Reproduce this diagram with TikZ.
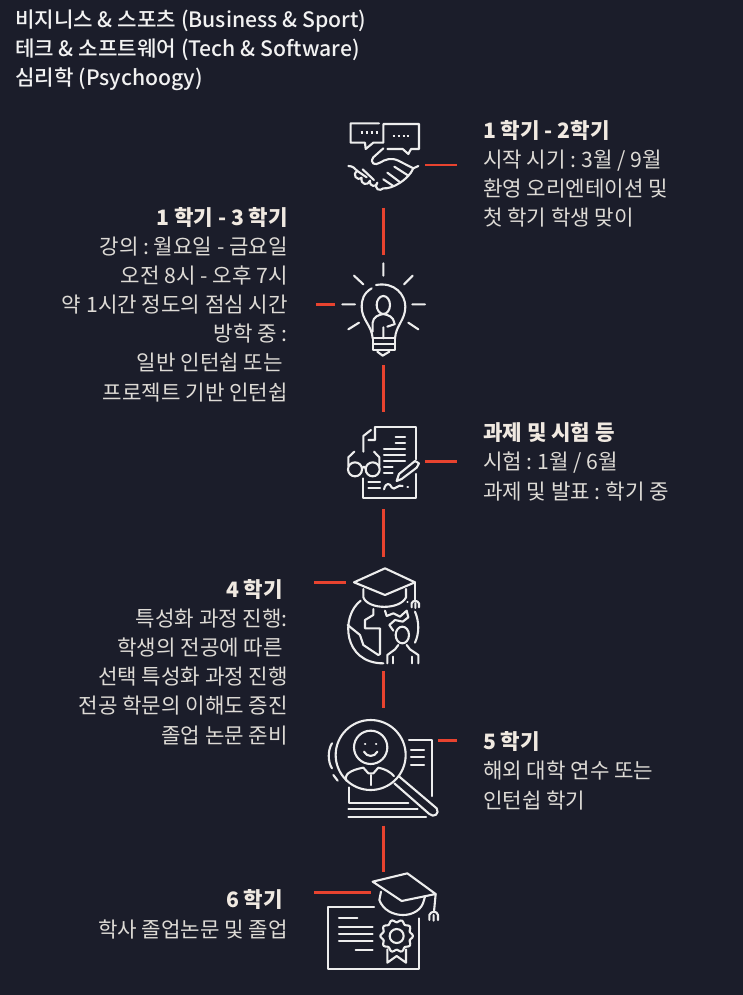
\documentclass[tikz,border=0pt]{standalone}
\usepackage{fontspec}
\setmainfont{Noto Sans CJK KR}
\newfontfamily\medfont{Noto Sans CJK KR Medium}
\definecolor{bg}{HTML}{1B1D2A}
\definecolor{redline}{HTML}{E8432F}
\definecolor{ink}{HTML}{DEDBD6}
\definecolor{headc}{HTML}{F0E9E1}
\definecolor{topc}{HTML}{F2F2F2}
\definecolor{iconc}{HTML}{EDEDED}
\newcommand{\hd}[1]{\textcolor{headc}{\textbf{#1}}}
\tikzset{
  redseg/.style={draw=redline,line width=2.5pt},
  icon/.style={draw=iconc,line width=2.1pt,line cap=round,line join=round},
  ltxt/.style={text=ink,align=left,anchor=base west,inner sep=0pt,font=\fontsize{21.2}{29.1}\selectfont\frenchspacing},
  rtxt/.style={text=ink,align=right,anchor=base east,inner sep=0pt,font=\fontsize{21.2}{29.1}\selectfont\frenchspacing},
  toptxt/.style={text=topc,align=left,anchor=base west,inner sep=0pt,font=\fontsize{21.2}{29.1}\selectfont\frenchspacing\medfont},
  zoomed/.style={x=0.33333pt,y=-0.33333pt}
}
\newcommand{\trailgap}{\hbox to 5pt{}}
\begin{document}
\begin{tikzpicture}[x=1pt,y=-1pt]
\useasboundingbox (0,0) rectangle (743,995);
\fill[bg] (0,0) rectangle (743,995);

% texts
\node[toptxt] (top) at (15,86) {비지니스 \& 스포츠 (Business \& Sport)\\테크 \& 소프트웨어 (Tech \& Software)\\심리학 (Psychoogy)};
\node[ltxt] (r1) at (483,225.5) {\hd{1 학기 - 2학기}\\시작 시기 : 3월 / 9월\\환영 오리엔테이션 및\\첫 학기 학생 맞이};
\node[rtxt] (l1) at (288,400) {\hd{1 학기 - 3 학기}\\강의 : 월요일 - 금요일\\오전 8시 - 오후 7시\\약 1시간 정도의 점심 시간\\방학 중 :\\일반 인턴쉽 또는\trailgap\\프로젝트 기반 인턴쉽};
\node[rtxt] (l4) at (288,743) {\hd{4 학기}\trailgap\\특성화 과정 진행:\\학생의 전공에 따른\trailgap\\선택 특성화 과정 진행\\전공 학문의 이해도 증진\\졸업 논문 준비};
\node[ltxt] (r2) at (483,499) {\hd{과제 및 시험 등}\\시험 : 1월 / 6월\\과제 및 발표 : 학기 중};
\node[ltxt] (r5) at (483,808) {\hd{5 학기}\\해외 대학 연수 또는\\인턴쉽 학기};
\node[rtxt] (l6) at (288,937) {\hd{6 학기}\trailgap\\학사 졸업논문 및 졸업};

% red connectors
\coordinate (a1) at (383.3,207.7); \coordinate (a2) at (383.3,254.7);
\coordinate (b1) at (383.3,365); \coordinate (b2) at (383.3,411.7);
\coordinate (c1) at (383.3,509.3); \coordinate (c2) at (383.3,556.7);
\coordinate (d1) at (383.3,671); \coordinate (d2) at (383.3,708.3);
\coordinate (e1) at (383.3,825.7); \coordinate (e2) at (383.3,872.3);
\coordinate (f1) at (425,165); \coordinate (f2) at (456.7,165);
\coordinate (g1) at (316,304.7); \coordinate (g2) at (335,304.7);
\coordinate (h1) at (425,461.7); \coordinate (h2) at (456.7,461.7);
\coordinate (i1) at (314,582.3); \coordinate (i2) at (345.7,582.3);
\coordinate (j1) at (438.3,740.7); \coordinate (j2) at (456.7,740.7);
\coordinate (k1) at (314,892.7); \coordinate (k2) at (371,892.7);
\foreach \p/\q in {a1/a2,b1/b2,c1/c2,d1/d2,e1/e2,f1/f2,g1/g2,h1/h2,i1/i2,j1/j2,k1/k2}
  \draw[redseg] (\p) -- (\q);

% handshake + bulb
\begin{scope}[shift={(300,100)},zoomed,icon]
\draw (237,70) -- (152,70) -- (152,128) -- (195,128) -- (197,147) -- (220,128) -- (248,128);
\draw (250,128) -- (250,72) -- (357,72) -- (357,147) -- (333,147) -- (325,162) -- (308,147) -- (262,147);
\foreach \x in {182,197,212,227} \draw[line width=2.6pt,line cap=butt] (\x,98) -- +(6,0);
\foreach \x in {278,293,308,320} \draw[line width=2.6pt,line cap=butt] (\x,108) -- +(6,0);
\draw (145,198) .. controls (158,198) and (165,205) .. (172,213);
\draw (172,213) .. controls (155,222) and (170,245) .. (185,233) .. controls (180,255) and (205,258) .. (210,242) .. controls (208,262) and (230,262) .. (232,248) .. controls (220,268) and (240,275) .. (250,265) .. controls (275,268) and (325,240) .. (340,205) -- (355,198);
\draw (172,213) -- (200,232) (188,208) -- (222,240);
\draw (250,145) -- (220,172) .. controls (208,190) and (225,198) .. (240,188) .. controls (255,178) and (275,172) .. (295,182) -- (340,205);
\draw (283,200) -- (322,225) (262,218) -- (298,245) (250,238) -- (280,258);
% bulb
\draw (250,490) -- (250,527) (162,527) -- (190,553) (338,527) -- (312,553) (127,613) -- (165,613) (337,613) -- (375,613) (145,688) -- (177,668) (355,688) -- (325,668);
\draw (215,565) .. controls (190,580) and (185,600) .. (185,620) .. controls (185,660) and (215,675) .. (218,715);
\draw (228,555) .. controls (285,545) and (316,585) .. (316,620) .. controls (316,660) and (288,675) .. (285,715);
\draw (250,615) ellipse [x radius=20,y radius=27];
\draw (218,695) -- (218,668) .. controls (220,650) and (235,645) .. (250,642) .. controls (265,645) and (280,650) .. (283,668);
\draw (250,682) -- (250,715) (262,680) -- (285,672);
\draw (218,715) -- (285,715) -- (285,733) -- (218,733) -- cycle;
\draw (218,733) -- (218,750) -- (285,750) -- (285,733);
\draw (232,755) -- (248,767) -- (268,755);
\end{scope}

% document + graduation/globe
\begin{scope}[shift={(300,400)},zoomed,icon]
\draw (225,82) -- (347,82) -- (347,178) (347,222) -- (347,293) -- (190,293) -- (190,235);
\draw (190,155) -- (190,108) -- (213,90) (225,82) -- (225,120) -- (205,120);
\draw (287,112) -- (315,112) (287,130) -- (315,130) (252,147) -- (315,147) (252,165) -- (315,165) (252,183) -- (315,183) (252,200) -- (278,200) (252,218) -- (278,218) (205,247) -- (240,247) (205,265) -- (240,265);
\draw (252,268) .. controls (258,245) and (270,250) .. (275,262) .. controls (282,275) and (295,250) .. (308,258);
\draw (322,260) -- +(2,0);
\draw (290,243) -- (297,222) -- (345,183) -- (357,190) -- (350,203) -- (305,237) -- cycle;
\draw (165,208) circle [radius=21] (218,208) circle [radius=21];
\draw (186,205) .. controls (190,198) and (193,198) .. (197,205);
\draw (145,198) -- (145,172) -- (163,155) (238,198) -- (238,172) -- (222,155);
% cap + globe
\draw (162,547) -- (255,505) -- (345,547) -- (255,585) -- cycle;
\draw (190,567) -- (190,592) .. controls (205,630) and (300,630) .. (318,592) -- (318,567);
\draw (345,547) -- (345,600);
\draw (335,622) -- (335,610) .. controls (338,600) and (352,600) .. (357,610) -- (357,622) (346,610) -- (346,624);
\draw (322,607) -- +(1,0);
\draw (182,602) .. controls (120,650) and (130,790) .. (250,790);
\draw (345,635) .. controls (358,665) and (358,700) .. (345,728);
\draw (143,675) -- (180,705) -- (190,735) -- (235,765) -- (240,762) -- (240,685) -- (195,685) -- (195,660) -- (220,645) -- (220,627);
\draw (255,632) -- (260,648) -- (280,640) -- (300,650) -- (320,632) -- (325,652) -- (308,665) -- (285,660) -- (268,675) -- (280,692);
\draw (307,705) ellipse [x radius=20,y radius=25];
\draw (262,790) -- (262,765) -- (285,748) -- (295,735) (355,790) -- (355,765) -- (330,748) -- (320,735);
\draw (280,770) -- (280,790) (335,770) -- (335,790);
\end{scope}

% magnifier + diploma
\begin{scope}[shift={(300,700)},zoomed,icon]
\draw (212,165) circle [radius=105];
\draw (212,142) circle [radius=50];
\draw (195,133) -- +(1,0) (228,133) -- +(1,0);
\draw (192,155) .. controls (200,172) and (224,172) .. (232,155);
\draw (140,243) .. controls (130,225) and (150,210) .. (190,203) -- (205,220) -- (220,220) -- (235,203) .. controls (255,207) and (270,215) .. (282,228);
\draw (212,225) -- (212,255);
\draw (96,130) .. controls (83,150) and (83,185) .. (96,205) (100,225) -- (113,242);
\draw (327,120) -- (397,120) -- (397,288) (148,262) -- (148,308) -- (325,308);
\draw (333,150) -- (372,150) (333,172) -- (372,172) (333,196) -- (372,196) (145,328) -- (353,328) (145,351) -- (378,351);
\draw (298,230) -- (410,325) .. controls (420,340) and (402,355) .. (388,342) -- (283,250);
% diploma
\draw (218,545) -- (322,520) -- (407,582) -- (305,603) -- cycle;
\draw (243,575) -- (238,600) .. controls (260,660) and (360,660) .. (372,600) -- (375,590);
\draw (407,582) -- (402,635);
\draw (388,660) -- (388,645) .. controls (392,632) and (412,632) .. (414,645) -- (414,660) (401,645) -- (401,662);
\draw (222,620) -- (85,620) -- (85,808) -- (358,808) -- (358,655);
\draw (117,653) -- (172,653) (117,680) -- (218,680) (117,702) -- (218,702) (117,723) -- (218,723) (167,751) -- (218,751);
\draw (290,708) circle [radius=21];
\draw plot[smooth cycle,samples=61,domain=0:354] ({290+(45+4*cos(10*\x))*cos(\x)},{708+(45+4*cos(10*\x))*sin(\x)});
\draw (262,748) -- (262,788) -- (290,768) -- (318,788) -- (318,748);
\end{scope}
\end{tikzpicture}
\end{document}
